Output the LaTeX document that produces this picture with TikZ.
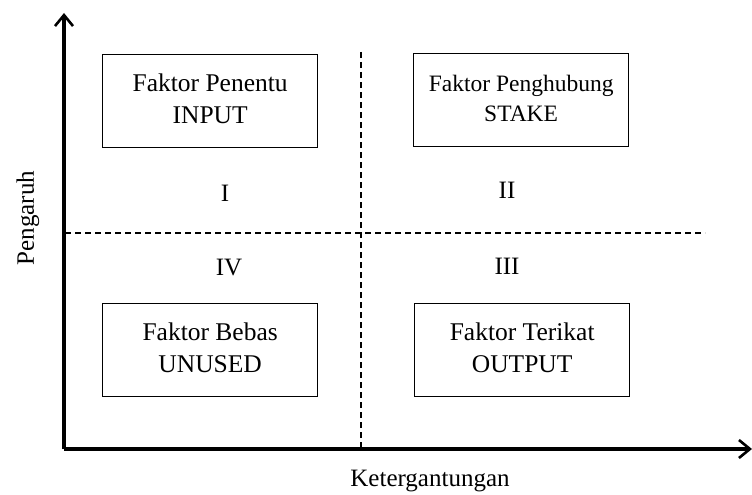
\documentclass[tikz,border=0pt]{standalone}
\usepackage{fontspec}
\setmainfont{Liberation Serif}
\usetikzlibrary{arrows.meta}
\newcommand{\boxtext}[4]{\raisebox{#1}{\fontsize{#2}{#3}\selectfont\begin{tabular}{@{}c@{}}#4\end{tabular}}}
\begin{document}
\begin{tikzpicture}[x=1pt,y=-1pt,
  quadbox/.style={draw,line width=1.3pt,minimum width=215pt,minimum height=93pt,align=center,anchor=north west,inner sep=0pt},
  lbl/.style={font=\fontsize{25}{28}\selectfont},
  axis/.style={line width=3.4pt,-{Straight Barb[length=11pt,width=18pt,line width=2.6pt]}},
  divider/.style={line width=1.2pt,dash pattern=on 6pt off 4pt}]
\useasboundingbox (0,0) rectangle (752,495);
\coordinate (o) at (64,449);
\coordinate (ytip) at (64,13);
\coordinate (xtip) at (752,449);
\coordinate (hl) at (65,233);
\coordinate (hr) at (705,233);
\coordinate (vt) at (361,52);
\coordinate (vb) at (361,449);
\draw[divider] (hl) -- (hr);
\draw[divider] (vt) -- (vb);
\draw[axis] (o) -- (ytip);
\draw[axis] (o) -- (xtip);
\node[quadbox] (input) at (102,54) {\boxtext{9pt}{25.5}{32}{Faktor Penentu\\INPUT}};
\node[quadbox] (stake) at (413,53) {\boxtext{13pt}{23.5}{30}{Faktor Penghubung\\STAKE}};
\node[quadbox] (unused) at (102,303) {\boxtext{9pt}{25.5}{32}{Faktor Bebas\\UNUSED}};
\node[quadbox] (output) at (414,303) {\boxtext{9pt}{25.5}{32}{Faktor Terikat\\OUTPUT}};
\node[lbl] (q1) at (225,193) {I};
\node[lbl] (q2) at (507,190) {II};
\node[lbl] (q4) at (229,268) {IV};
\node[lbl] (q3) at (507,266) {III};
\node[lbl,rotate=90] (ylab) at (28,218) {Pengaruh};
\node[lbl] (xlab) at (430,481) {Ketergantungan};
\end{tikzpicture}
\end{document}
